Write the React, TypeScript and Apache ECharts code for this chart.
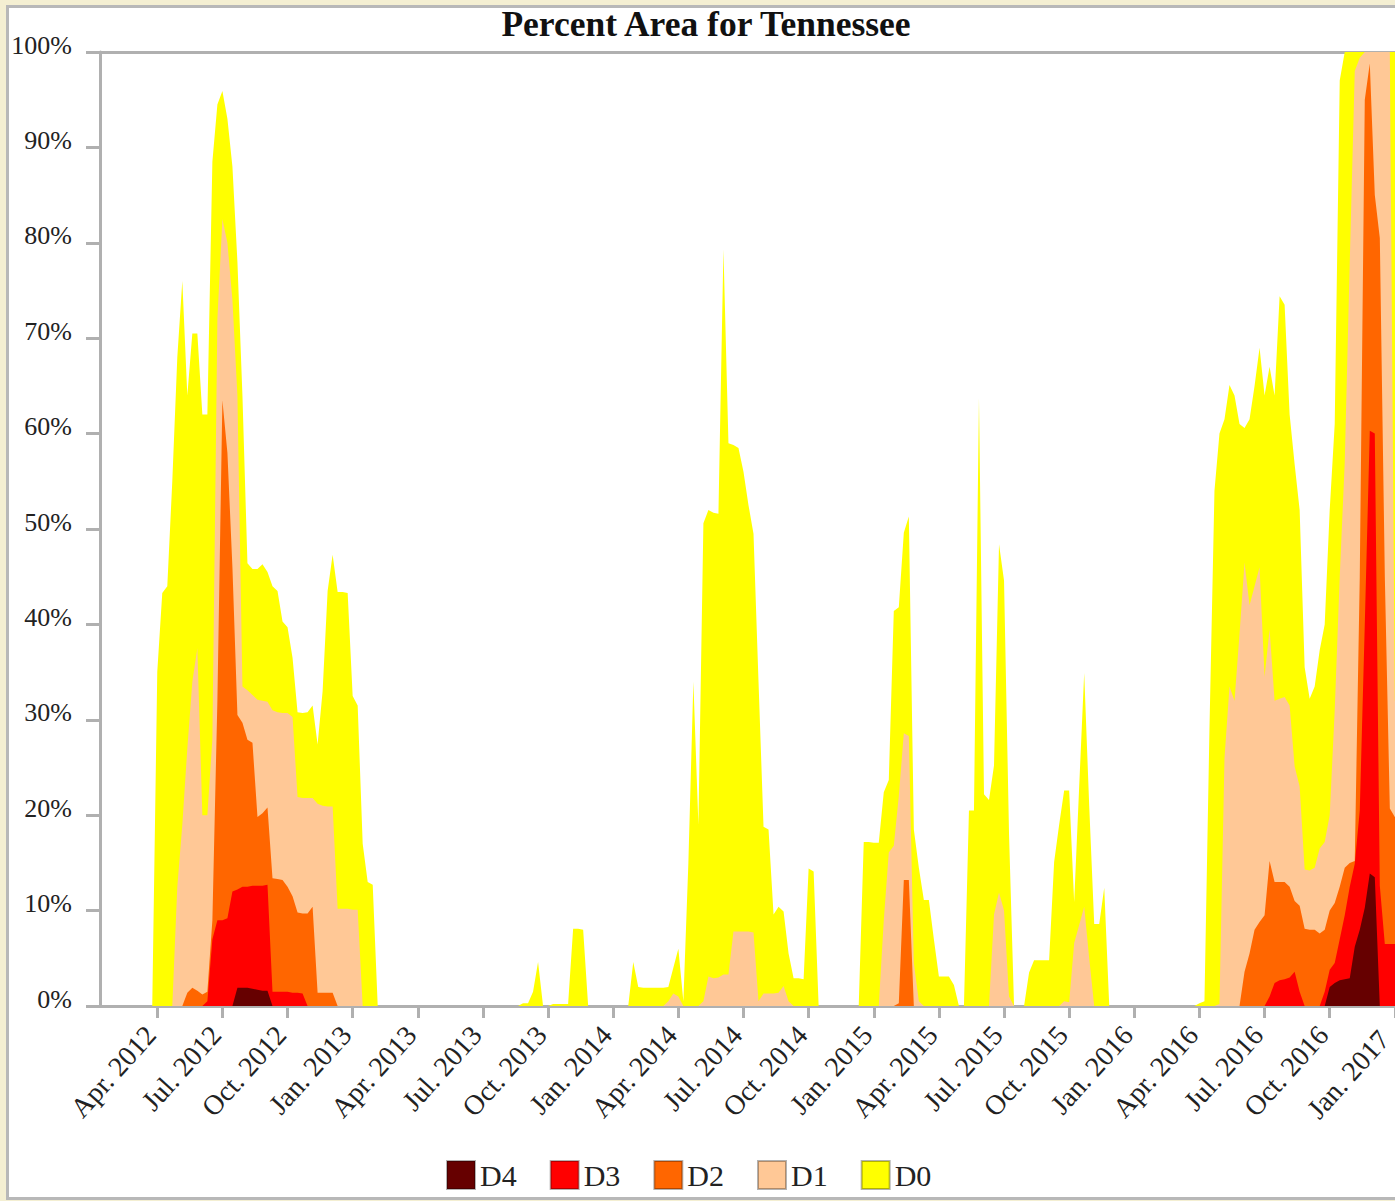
import React, { useEffect, useRef } from "react";
import * as echarts from "echarts";

// Weekly U.S. Drought Monitor maps, week index counted from 2012-01-15
const WEEK0 = Date.UTC(2012, 0, 15);
const WEEK_MS = 7 * 24 * 3600 * 1000;
const X_MIN = Date.UTC(2012, 0, 12);
const X_MAX = Date.UTC(2017, 0, 4);

const TITLE = "Percent Area for Tennessee";
const CATEGORIES = ["D0", "D1", "D2", "D3", "D4"];
const LEGEND_ORDER = ["D4", "D3", "D2", "D1", "D0"];
const COLORS: Record<string, string> = {
  D0: "#FFFF00",
  D1: "#FFC896",
  D2: "#FF6600",
  D3: "#FF0000",
  D4: "#660000",
};
// one labelled tick every 13 weekly maps, starting at week 11
const TICK_FIRST_WEEK = 11;
const TICK_STEP_WEEKS = 13;
const TICK_LABELS = [
  "Apr. 2012", "Jul. 2012", "Oct. 2012", "Jan. 2013", "Apr. 2013", "Jul. 2013",
  "Oct. 2013", "Jan. 2014", "Apr. 2014", "Jul. 2014", "Oct. 2014", "Jan. 2015",
  "Apr. 2015", "Jul. 2015", "Oct. 2015", "Jan. 2016", "Apr. 2016", "Jul. 2016",
  "Oct. 2016", "Jan. 2017",
];

// [week, percent area]
const D0: [number, number][] = [
  [0, 0], [10, 0], [11, 35], [12, 43.3], [13, 44], [14, 55], [15, 68], [16, 76], [17, 64], [18, 70.5], [19, 70.5],
  [20, 62], [21, 62], [22, 88.5], [23, 94.5], [24, 95.9], [25, 93], [26, 88], [27, 78], [28, 64], [29, 46.4],
  [30, 45.8], [31, 45.8], [32, 46.3], [33, 45.5], [34, 44], [35, 43.5], [36, 40.3], [37, 39.7], [38, 36.5],
  [39, 30.8], [40, 30.7], [41, 30.8], [42, 31.5], [43, 27.4], [44, 33], [45, 43.5], [46, 47.3], [47, 43.4],
  [48, 43.4], [49, 43.3], [50, 32.5], [51, 31.5], [52, 17], [53, 13], [54, 12.7], [55, 0],
  [83, 0], [84, 0.3], [85, 0.3], [86, 1.5], [87, 4.6], [88, 0], [89, 0], [90, 0.2], [91, 0.2], [92, 0.2],
  [93, 0.2], [94, 8.1], [95, 8.1], [96, 8.0], [97, 0],
  [105, 0], [106, 4.6], [107, 2.0], [108, 1.9], [109, 1.9], [110, 1.9], [111, 1.9], [112, 1.9], [113, 2.0],
  [114, 4], [115, 6], [116, 0.5], [117, 15], [118, 34], [119, 19], [120, 50.6], [121, 52], [122, 51.7],
  [123, 51.6], [124, 79.3], [125, 59], [126, 58.8], [127, 58.5], [128, 56], [129, 52.5], [130, 49.5],
  [131, 34], [132, 18.8], [133, 18.5], [134, 9.6], [135, 10.4], [136, 9.9], [137, 5.5], [138, 2.9],
  [139, 2.9], [140, 2.8], [141, 14.4], [142, 14.1], [143, 0],
  [151, 0], [152, 17.2], [153, 17.2], [154, 17.1], [155, 17.1], [156, 22.4], [157, 23.7], [158, 41.4],
  [159, 41.8], [160, 49.6], [161, 51.3], [162, 18.5], [163, 14.5], [164, 11.1], [165, 11.1], [166, 7],
  [167, 3.1], [168, 3.1], [169, 3.1], [170, 2.2], [171, 0],
  [172, 0], [173, 20.5], [174, 20.5], [175, 63.7], [176, 22.2], [177, 21.6], [178, 25.2], [179, 48.4],
  [180, 44.6], [181, 18], [182, 0],
  [184, 0], [185, 3.5], [186, 4.8], [187, 4.8], [188, 4.8], [189, 4.8], [190, 15.1], [191, 19], [192, 22.6],
  [193, 22.6], [194, 10.9], [195, 23], [196, 34.9], [197, 21], [198, 8.6], [199, 8.6], [200, 12.4], [201, 0],
  [218, 0], [219, 0.3], [220, 0.5], [221, 29], [222, 54], [223, 60], [224, 61.5], [225, 65.1], [226, 64],
  [227, 61], [228, 60.6], [229, 61.5], [230, 65], [231, 69], [232, 64], [233, 67], [234, 64], [235, 74.4],
  [236, 73.5], [237, 62], [238, 56.8], [239, 52], [240, 35.5], [241, 32.2], [242, 33.5], [243, 37.3],
  [244, 40], [245, 52], [246, 61], [247, 97], [248, 100], [249, 100], [250, 100], [251, 100], [252, 100],
  [253, 100], [254, 100], [255, 100], [256, 100], [257, 100], [258, 100], [259, 100],
];

const D1: [number, number][] = [
  [0, 0], [14, 0], [15, 12.5], [16, 19], [17, 27], [18, 34], [19, 37.5], [20, 20], [21, 20], [22, 28],
  [23, 72], [24, 82.5], [25, 80], [26, 74], [27, 64], [28, 33.5], [29, 33.1], [30, 32.6], [31, 32.1],
  [32, 32], [33, 31.9], [34, 31], [35, 30.8], [36, 30.7], [37, 30.7], [38, 30.3], [39, 21.9], [40, 21.8],
  [41, 21.8], [42, 21.8], [43, 21.2], [44, 21], [45, 20.9], [46, 20.9], [47, 10.2], [48, 10.2], [49, 10.2],
  [50, 10.1], [51, 10.1], [52, 0],
  [112, 0], [113, 0.5], [114, 1.3], [115, 1.0], [116, 0],
  [119, 0], [120, 0.5], [121, 3.1], [122, 2.9], [123, 3.0], [124, 3.3], [125, 3.3], [126, 7.8], [127, 7.8],
  [128, 7.8], [129, 7.8], [130, 7.7], [131, 0.5], [132, 1.3], [133, 1.3], [134, 1.3], [135, 1.4],
  [136, 2.1], [137, 0.5], [138, 0],
  [155, 0], [156, 9], [157, 16.1], [158, 16.8], [159, 22], [160, 28.6], [161, 28.3], [162, 4.5],
  [163, 0.5], [164, 0],
  [177, 0], [178, 9.6], [179, 11.9], [180, 10], [181, 1], [182, 0],
  [191, 0], [192, 0.5], [193, 0.4], [194, 6.6], [195, 8.5], [196, 10.4], [197, 5], [198, 0],
  [222, 0], [223, 0.2], [224, 26], [225, 33.5], [226, 32], [227, 39], [228, 46.5], [229, 42], [230, 44],
  [231, 46], [232, 34.5], [233, 39.5], [234, 32], [235, 32.2], [236, 32.4], [237, 31.5], [238, 25.1],
  [239, 23], [240, 14.3], [241, 14.2], [242, 14.5], [243, 16.5], [244, 17.2], [245, 20], [246, 31],
  [247, 45], [248, 57], [249, 78], [250, 98], [251, 99.4], [252, 100], [253, 100], [254, 100], [255, 100],
  [256, 100], [257, 100], [258, 32], [259, 32],
];

const D2: [number, number][] = [
  [0, 0], [16, 0], [17, 1.4], [18, 1.9], [19, 1.6], [20, 1.2], [21, 1.5], [22, 9], [23, 32], [24, 63.5],
  [25, 58], [26, 46], [27, 30.5], [28, 29.7], [29, 27.9], [30, 27.6], [31, 19.8], [32, 20.2], [33, 20.8],
  [34, 13.4], [35, 13.3], [36, 13.2], [37, 12.5], [38, 11.5], [39, 9.8], [40, 9.7], [41, 9.7], [42, 10.4],
  [43, 1.4], [44, 1.4], [45, 1.4], [46, 1.4], [47, 0],
  [158, 0], [159, 0.3], [160, 13.2], [161, 13.2], [162, 0],
  [227, 0], [228, 3.6], [229, 5.5], [230, 8], [231, 8.8], [232, 9.5], [233, 15.2], [234, 13], [235, 13],
  [236, 13], [237, 12.5], [238, 11], [239, 10.5], [240, 8.1], [241, 8], [242, 8], [243, 7.6], [244, 8],
  [245, 10], [246, 10.8], [247, 12.5], [248, 14.5], [249, 15], [250, 15.2], [251, 45], [252, 95],
  [253, 98.8], [254, 85], [255, 80.5], [256, 45], [257, 20.7], [258, 19.8], [259, 19.8],
];

const D3: [number, number][] = [
  [0, 0], [20, 0], [21, 0.5], [22, 7], [23, 9], [24, 9], [25, 9.2], [26, 12], [27, 12.2], [28, 12.5],
  [29, 12.5], [30, 12.6], [31, 12.6], [32, 12.6], [33, 12.7], [34, 1.5], [35, 1.5], [36, 1.5], [37, 1.5],
  [38, 1.4], [39, 1.4], [40, 1.3], [41, 0],
  [232, 0], [233, 1], [234, 2.4], [235, 2.7], [236, 2.8], [237, 3], [238, 3.6], [239, 1.5], [240, 0],
  [243, 0], [244, 1.5], [245, 3.8], [246, 4.5], [247, 7], [248, 9.5], [249, 12.5], [250, 14.9],
  [251, 20.5], [252, 40], [253, 60.3], [254, 60], [255, 12.6], [256, 6.5], [257, 6.5], [258, 6.5], [259, 6.5],
];

const D4: [number, number][] = [
  [0, 0], [26, 0], [27, 1.9], [28, 1.9], [29, 1.9], [30, 1.8], [31, 1.7], [32, 1.6], [33, 1.6], [34, 0],
  [244, 0], [245, 2], [246, 2.4], [247, 2.7], [248, 2.8], [249, 2.9], [250, 6.2], [251, 8], [252, 10.3],
  [253, 13.9], [254, 13.5], [255, 0], [259, 0],
];

const SERIES_VALUES: Record<string, [number, number][]> = { D0, D1, D2, D3, D4 };

const FONT = "'Liberation Serif', 'Times New Roman', serif";
const AXIS_GRAY = "#B0B0B0";

const weekTime = (w: number) => WEEK0 + w * WEEK_MS;

export default function App() {
  const ref = useRef<HTMLDivElement>(null);

  useEffect(() => {
    if (!ref.current) return;
    const chart = echarts.init(ref.current, undefined, { renderer: "svg" });
    const tickValues = TICK_LABELS.map((_, i) => weekTime(TICK_FIRST_WEEK + TICK_STEP_WEEKS * i));
    const tickIndex = new Map<number, number>();
    tickValues.forEach((v, i) => tickIndex.set(v, i));
    const labelText = { fontFamily: FONT, fontSize: 28, color: "#222", lineHeight: 18 };

    chart.setOption({
      animation: false,
      backgroundColor: "transparent",
      title: {
        text: TITLE,
        left: "center",
        top: 3,
        padding: 0,
        textStyle: { fontFamily: FONT, fontWeight: "bold", fontSize: 35.5, color: "#111" },
      },
      legend: {
        data: LEGEND_ORDER,
        left: 432,
        top: 1152,
        icon: "rect",
        itemWidth: 28,
        itemHeight: 28,
        itemGap: 33,
        itemStyle: { borderColor: "rgba(0,0,0,0.3)", borderWidth: 2 },
        textStyle: { fontFamily: FONT, fontSize: 30, color: "#222" },
      },
      grid: { left: 91, right: 1, top: 49, bottom: 191, containLabel: false, outerBoundsMode: "none" },
      xAxis: [
        {
          type: "value",
          min: X_MIN,
          max: X_MAX,
          axisLine: { show: true, onZero: false, lineStyle: { color: AXIS_GRAY, width: 3 } },
          axisTick: { show: true, length: 12, customValues: tickValues, lineStyle: { color: AXIS_GRAY, width: 3 } },
          axisLabel: {
            customValues: tickValues,
            rotate: 48,
            margin: 30,
            verticalAlign: "bottom",
            align: "right",
            ...labelText,
            rich: {
              n: { ...labelText },
              e: { ...labelText, padding: [0, 6, 0, 0] },
            },
            formatter: (v: number) => {
              const i = tickIndex.get(v);
              if (i === undefined) return "";
              const key = i === TICK_LABELS.length - 1 ? "e" : "n";
              return `{${key}|${TICK_LABELS[i]}}`;
            },
          },
          splitLine: { show: false },
        },
        {
          type: "value",
          position: "top",
          min: 0,
          max: 1,
          axisLine: { show: true, onZero: false, lineStyle: { color: AXIS_GRAY, width: 3 } },
          axisTick: { show: false },
          axisLabel: { show: false },
          splitLine: { show: false },
        },
      ],
      yAxis: {
        type: "value",
        min: 0,
        max: 100,
        interval: 10,
        axisLine: { show: true, onZero: false, lineStyle: { color: AXIS_GRAY, width: 3 } },
        axisTick: { show: true, length: 14, lineStyle: { color: AXIS_GRAY, width: 3 } },
        axisLabel: {
          formatter: "{value}%",
          fontFamily: FONT,
          fontSize: 26,
          color: "#222",
          margin: 28,
          verticalAlign: "bottom",
          lineHeight: 14,
        },
        splitLine: { show: false },
      },
      series: CATEGORIES.map((name) => ({
        name,
        type: "line",
        xAxisIndex: 0,
        data: SERIES_VALUES[name].map(([w, v]) => [weekTime(w), v]),
        symbol: "none",
        showSymbol: false,
        silent: true,
        lineStyle: { width: 0, color: COLORS[name] },
        itemStyle: { color: COLORS[name] },
        areaStyle: { color: COLORS[name], opacity: 1 },
      })),
    });

    return () => chart.dispose();
  }, []);

  return (
    <div
      style={{
        position: "fixed",
        left: 0,
        top: 0,
        width: "100vw",
        height: "100vh",
        background: "#F4EFD2",
        overflow: "hidden",
      }}
    >
      <div
        style={{
          position: "absolute",
          left: 6,
          top: 5,
          width: 1460,
          height: 1189,
          border: "3px solid #B8B8B8",
          background: "#FFFFFF",
        }}
      >
        <div
          ref={ref}
          style={{ position: "absolute", left: 0, top: -5, width: 1394, height: 1194 }}
        />
      </div>
    </div>
  );
}
